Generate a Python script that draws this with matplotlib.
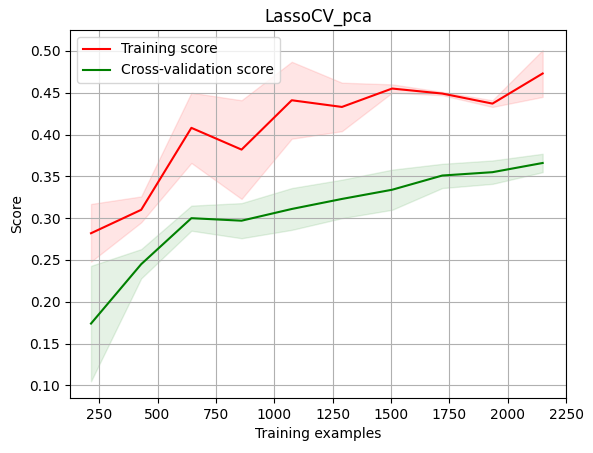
import matplotlib.pyplot as plt
import numpy as np

train_sizes = np.array([215, 430, 645, 860, 1075, 1290, 1505, 1720, 1935, 2150])
train_mean = np.array([0.282, 0.310, 0.408, 0.382, 0.441, 0.433, 0.455, 0.449, 0.437, 0.473])
train_low = np.array([0.248, 0.295, 0.366, 0.323, 0.395, 0.404, 0.450, 0.447, 0.433, 0.445])
train_high = np.array([0.317, 0.326, 0.450, 0.441, 0.487, 0.462, 0.460, 0.451, 0.441, 0.501])
cv_mean = np.array([0.174, 0.245, 0.300, 0.297, 0.311, 0.323, 0.334, 0.351, 0.355, 0.366])
cv_low = np.array([0.105, 0.228, 0.285, 0.276, 0.286, 0.300, 0.310, 0.336, 0.341, 0.355])
cv_high = np.array([0.243, 0.263, 0.315, 0.318, 0.336, 0.346, 0.358, 0.365, 0.369, 0.377])

fig = plt.figure(figsize=(5.93, 4.53), dpi=100)
ax = fig.add_axes([70 / 593, 55 / 453, 496 / 593, 368 / 453])
ax.set_title("LassoCV_pca")
ax.set_xlabel("Training examples")
ax.set_ylabel("Score")
ax.grid()
ax.fill_between(train_sizes, train_low, train_high, alpha=0.1, color="r")
ax.fill_between(train_sizes, cv_low, cv_high, alpha=0.1, color="g")
ax.plot(train_sizes, train_mean, '-', color="r", label="Training score")
ax.plot(train_sizes, cv_mean, '-', color="g", label="Cross-validation score")
ax.set_xticks(np.arange(250, 2251, 250))
ax.set_xlim(125, 2250)
ax.set_yticks(np.arange(0.10, 0.501, 0.05))
ax.set_ylim(0.085, 0.525)
ax.legend(loc="upper left")
fig.savefig("out.png")
